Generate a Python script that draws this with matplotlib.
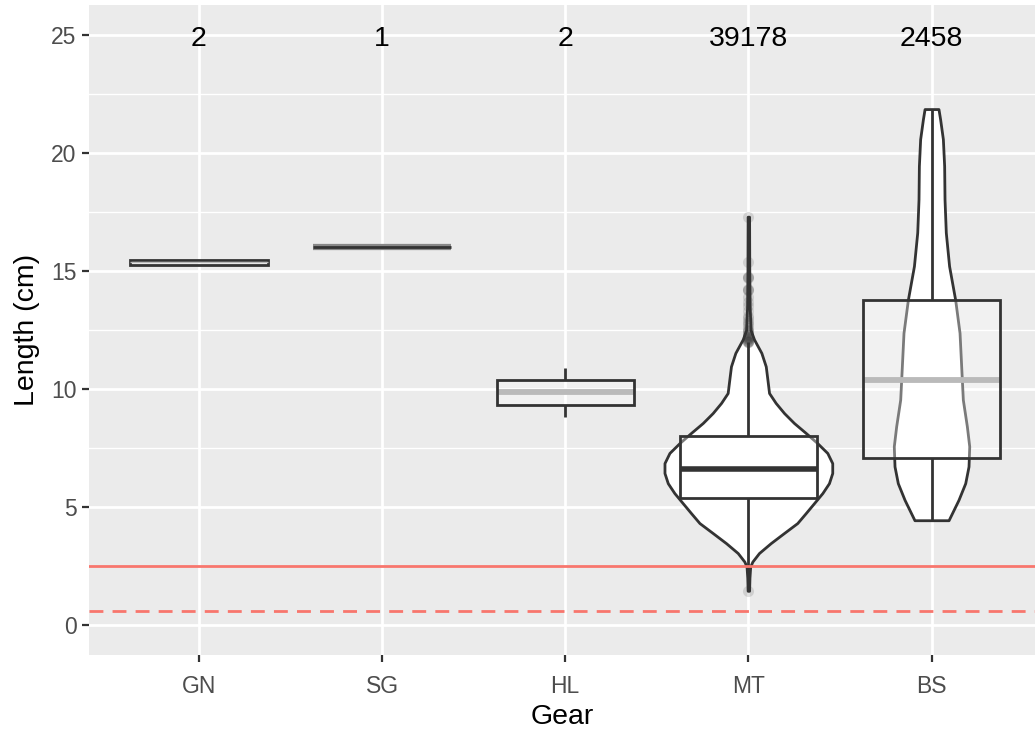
import matplotlib
matplotlib.use("Agg")
import matplotlib.pyplot as plt
import numpy as np

plt.rcParams['font.family'] = ['Liberation Sans', 'DejaVu Sans']

# ---------------- data ----------------
categories = ["GN", "SG", "HL", "MT", "BS"]
counts = [2, 1, 2, 39178, 2458]

box_q1 = [15.25, 16.0, 9.34, 5.40, 7.07]
box_med = [15.37, 16.0, 9.86, 6.61, 10.40]
box_q3 = [15.47, 16.0, 10.36, 8.00, 13.79]
whisk_lo = [15.25, 16.0, 8.80, 1.60, 4.40]
whisk_hi = [15.47, 16.0, 10.90, 12.00, 21.83]

mt_outliers = [17.3, 15.4, 14.75, 14.75, 14.7, 14.2, 14.2, 14.25, 13.9, 13.7,
               13.5, 13.3, 13.1, 13.0, 12.9, 12.8, 12.7, 12.6, 12.5, 12.45,
               12.4, 12.35, 12.3, 12.25, 12.2, 12.2, 12.15, 12.1, 12.1, 12.05,
               12.05, 12.0, 12.0, 12.0, 1.45]

# violin profiles: y value and half-width (in category units)
mt_violin_y = [1.45, 2.0, 2.48, 2.69, 3.05, 3.47, 3.90, 4.32, 4.74, 5.16, 5.59,
               6.01, 6.44, 6.86, 7.29, 7.71, 8.14, 8.56, 8.98, 9.41, 9.83,
               10.40, 10.96, 11.53, 12.10, 12.5, 13.5, 15.0, 17.3]
mt_violin_w = [0.004, 0.006, 0.010, 0.022, 0.058, 0.122, 0.195, 0.267, 0.313,
               0.358, 0.404, 0.440, 0.458, 0.458, 0.431, 0.376, 0.313, 0.249,
               0.195, 0.149, 0.113, 0.104, 0.095, 0.071, 0.031, 0.012, 0.007,
               0.005, 0.004]

bs_violin_y = [4.44, 5.30, 6.01, 6.72, 7.57, 8.42, 9.55, 10.96, 12.38, 13.79,
               15.21, 16.63, 18.04, 19.45, 20.59, 21.43, 21.86]
bs_violin_w = [0.093, 0.147, 0.184, 0.202, 0.206, 0.193, 0.171, 0.162, 0.153,
               0.129, 0.096, 0.078, 0.071, 0.069, 0.062, 0.047, 0.038]

ref_solid = 2.5
ref_dashed = 0.6

# ---------------- styling ----------------
dark = '#333333'
med_grey = '#BABABA'
red = '#F8766D'
bg = '#EBEBEB'
box_w = 0.375

fig = plt.figure(figsize=(10.35, 7.32), dpi=100)
ax = fig.add_axes([0.086, 0.1052, 0.914, 0.888])
ax.set_facecolor(bg)

pos = np.arange(1, len(categories) + 1)

# violins
for p, vy, vw in [(pos[3], mt_violin_y, mt_violin_w), (pos[4], bs_violin_y, bs_violin_w)]:
    vy = np.array(vy); vw = np.array(vw)
    ax.fill_betweenx(vy, p - vw, p + vw, facecolor='white', edgecolor=dark,
                     linewidth=2.0, zorder=3)

# whiskers
for i, p in enumerate(pos):
    ax.plot([p, p], [box_q3[i], whisk_hi[i]], color=dark, lw=2.0, zorder=4,
            solid_capstyle='butt')
    ax.plot([p, p], [whisk_lo[i], box_q1[i]], color=dark, lw=2.0, zorder=4,
            solid_capstyle='butt')

# boxes
for i, p in enumerate(pos):
    h = box_q3[i] - box_q1[i]
    rect = plt.Rectangle((p - box_w, box_q1[i]), 2 * box_w, h,
                         facecolor=(1, 1, 1, 0.35), edgecolor='none', zorder=5)
    ax.add_patch(rect)
    # medians
    if categories[i] == 'MT':
        ax.plot([p - box_w, p + box_w], [box_med[i]] * 2, color=dark, lw=4.0,
                zorder=6, solid_capstyle='butt')
    elif categories[i] == 'GN':
        ax.plot([p - box_w, p + box_w], [box_med[i]] * 2, color=med_grey, lw=1.0,
                zorder=7, solid_capstyle='butt')
    elif categories[i] == 'SG':
        ax.plot([p - box_w, p + box_w], [box_med[i]] * 2, color='#888888', lw=4.5,
                zorder=5.5, solid_capstyle='butt')
    else:
        ax.plot([p - box_w, p + box_w], [box_med[i]] * 2, color=med_grey, lw=4.2,
                zorder=6, solid_capstyle='butt')
    outline = plt.Rectangle((p - box_w, box_q1[i]), 2 * box_w, h,
                            facecolor='none', edgecolor=dark, lw=2.0, zorder=6.5)
    ax.add_patch(outline)

# outliers of MT
ax.plot([pos[3]] * len(mt_outliers), mt_outliers, 'o', color=dark, alpha=0.15,
        ms=8, mec='none', zorder=7)

# reference lines
ax.axhline(ref_solid, color=red, lw=2.0, zorder=8)
ax.axhline(ref_dashed, color=red, lw=2.0, ls=(0, (5, 3.3)), zorder=8)

# counts
for p, c in zip(pos, counts):
    ax.text(p, 24.83, str(c), ha='center', va='center', fontsize=20.5,
            color='black', zorder=9)

# axes
ax.set_xlim(0.4, 5.565)
ax.set_ylim(-1.27, 26.27)
ax.set_xticks(pos)
ax.set_xticklabels(categories)
ax.set_yticks([0, 5, 10, 15, 20, 25])
ax.set_yticks([2.5, 7.5, 12.5, 17.5, 22.5], minor=True)
ax.grid(which='major', color='white', lw=2.0, zorder=0)
ax.grid(which='minor', axis='y', color='white', lw=1.0, zorder=0)
ax.set_axisbelow(True)
ax.tick_params(which='major', length=5, width=1.6, color=dark, labelsize=16.5,
               labelcolor='#4D4D4D', pad=4)
ax.tick_params(axis='x', which='major', pad=9.5)
ax.tick_params(which='minor', length=0)
for s in ax.spines.values():
    s.set_visible(False)
ax.set_xlabel('Gear', fontsize=20.5, labelpad=4.5)
ax.set_ylabel('Length (cm)', fontsize=20.5, labelpad=8)

fig.savefig('out.png', dpi=100)
